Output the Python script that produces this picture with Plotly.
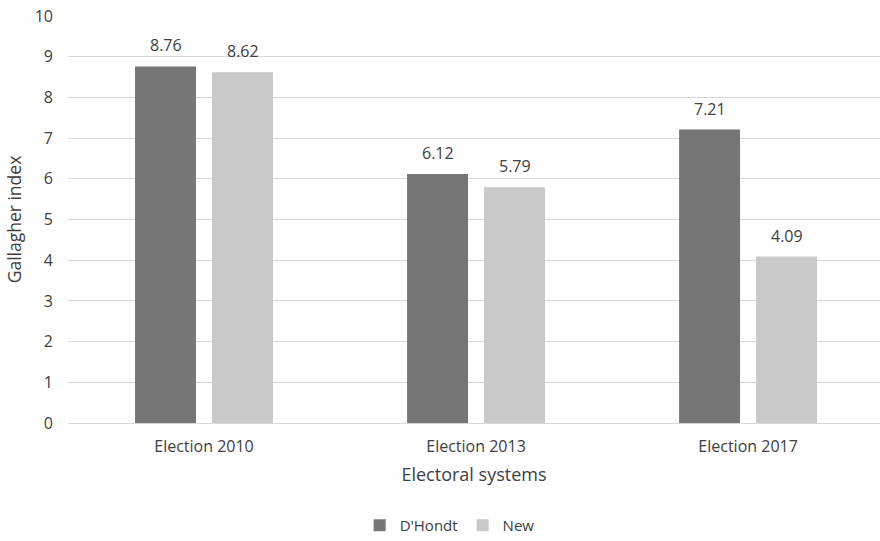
import plotly.graph_objects as go

categories = ["Election 2010", "Election 2013", "Election 2017"]
dhondt = [8.76, 6.12, 7.21]
new = [8.62, 5.79, 4.09]
y_ticks = [0, 1, 2, 3, 4, 5, 6, 7, 8, 9, 10]

FONT = "'Open Sans', sans-serif"
TEXT = "#404040"

fig = go.Figure()
fig.add_trace(go.Bar(x=categories, y=dhondt, name="D'Hondt",
                     marker=dict(color="#767676", line=dict(width=0))))
fig.add_trace(go.Bar(x=categories, y=new, name="New",
                     marker=dict(color="#c8c9ca", line=dict(width=0))))

# value labels above each bar
annotations = []
for series, shift in ((dhondt, -38.5), (new, 38.5)):
    for cat, val in zip(categories, series):
        annotations.append(dict(x=cat, y=val, text=f"{val:.2f}", showarrow=False,
                                xshift=shift, yshift=8, yanchor="bottom",
                                font=dict(family=FONT, size=16, color=TEXT)))

fig.update_layout(
    width=880, height=541,
    margin=dict(l=68, r=0, t=16, b=118, autoexpand=False),
    paper_bgcolor="white", plot_bgcolor="white",
    barmode="group", bargap=0.434, bargroupgap=0.208,
    font=dict(family=FONT, size=16, color=TEXT),
    annotations=annotations,
    showlegend=True,
    legend=dict(orientation="h", x=0.47, xanchor="center",
                y=-0.252, yanchor="middle", tracegroupgap=0,
                font=dict(size=15, color=TEXT), itemwidth=30, traceorder="normal"),
    xaxis=dict(range=[-0.5, 2.485], showgrid=False, showline=False, ticks="",
               ticklabelstandoff=12, automargin=False,
               tickfont=dict(size=16, color=TEXT),
               title=dict(text="Electoral systems", standoff=12,
                          font=dict(size=18, color=TEXT))),
    yaxis=dict(range=[0, 10], tickvals=y_ticks, showgrid=True, gridcolor="#d9d9d9",
               gridwidth=1, zeroline=True, zerolinecolor="#d9d9d9", zerolinewidth=1,
               showline=False, ticks="", ticklabelstandoff=14, automargin=False,
               tickfont=dict(size=16, color=TEXT),
               title=dict(text="Gallagher index", standoff=8,
                          font=dict(size=17.5, color=TEXT))),
)

fig.write_html("out.html")
